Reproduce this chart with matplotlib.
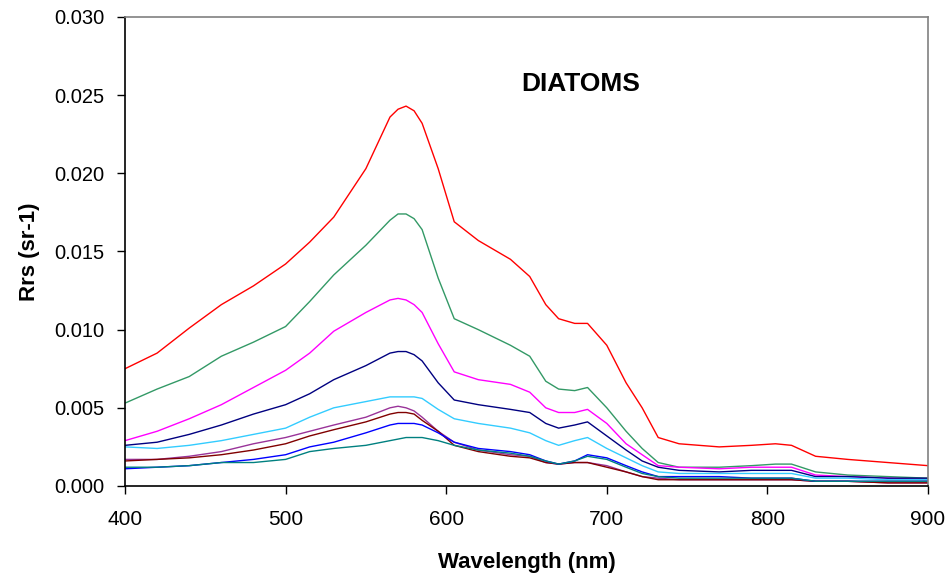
import numpy as np
import matplotlib
matplotlib.use('Agg')
import matplotlib.pyplot as plt

plt.rcParams['font.family'] = ['Liberation Sans', 'DejaVu Sans']

wl = [400, 420, 440, 460, 480, 500, 515, 530, 550, 565, 570, 575, 580, 585, 595, 605,
      620, 640, 652, 662, 670, 680, 688, 700, 712, 722, 732, 745, 770, 790,
      805, 815, 830, 850, 875, 900]

red = [0.0075, 0.0085, 0.0101, 0.0116, 0.0128, 0.0142, 0.0156, 0.0172, 0.0203, 0.0236,
       0.0241, 0.0243, 0.0240, 0.0232, 0.0203, 0.0169, 0.0157, 0.0145, 0.0134, 0.0116,
       0.0107, 0.0104, 0.0104, 0.0090, 0.0066, 0.0050, 0.0031, 0.0027, 0.0025, 0.0026,
       0.0027, 0.0026, 0.0019, 0.0017, 0.0015, 0.0013]
green = [0.0053, 0.0062, 0.0070, 0.0083, 0.0092, 0.0102, 0.0118, 0.0135, 0.0154, 0.0170,
         0.0174, 0.0174, 0.0171, 0.0164, 0.0133, 0.0107, 0.0100, 0.0090, 0.0083, 0.0067,
         0.0062, 0.0061, 0.0063, 0.0050, 0.0035, 0.0024, 0.0015, 0.0012, 0.0012, 0.0013,
         0.0014, 0.0014, 0.0009, 0.0007, 0.0006, 0.0005]
magenta = [0.0029, 0.0035, 0.0043, 0.0052, 0.0063, 0.0074, 0.0085, 0.0099, 0.0111, 0.0119,
           0.0120, 0.0119, 0.0116, 0.0111, 0.0091, 0.0073, 0.0068, 0.0065, 0.0060, 0.0050,
           0.0047, 0.0047, 0.0049, 0.0040, 0.0027, 0.0020, 0.0013, 0.0012, 0.0011, 0.0012,
           0.0012, 0.0012, 0.0007, 0.0006, 0.0005, 0.0004]
navy = [0.0026, 0.0028, 0.0033, 0.0039, 0.0046, 0.0052, 0.0059, 0.0068, 0.0077, 0.0085,
        0.0086, 0.0086, 0.0084, 0.0080, 0.0066, 0.0055, 0.0052, 0.0049, 0.0047, 0.0040,
        0.0037, 0.0039, 0.0041, 0.0032, 0.0023, 0.0016, 0.0012, 0.0010, 0.0009, 0.0010,
        0.0010, 0.0010, 0.0006, 0.0006, 0.0005, 0.0005]
cyan = [0.0025, 0.0024, 0.0026, 0.0029, 0.0033, 0.0037, 0.0044, 0.0050, 0.0054, 0.0057,
        0.0057, 0.0057, 0.0057, 0.0056, 0.0049, 0.0043, 0.0040, 0.0037, 0.0034, 0.0029,
        0.0026, 0.0029, 0.0031, 0.0024, 0.0018, 0.0013, 0.0009, 0.0008, 0.0008, 0.0008,
        0.0008, 0.0008, 0.0005, 0.0005, 0.0004, 0.0004]
purple = [0.0017, 0.0017, 0.0019, 0.0022, 0.0027, 0.0031, 0.0035, 0.0039, 0.0044, 0.0050,
          0.0051, 0.0050, 0.0048, 0.0044, 0.0035, 0.0028, 0.0023, 0.0020, 0.0019, 0.0015,
          0.0014, 0.0015, 0.0015, 0.0013, 0.0009, 0.0006, 0.0005, 0.0004, 0.0004, 0.0004,
          0.0004, 0.0004, 0.0003, 0.0003, 0.0002, 0.0002]
darkred = [0.0016, 0.0017, 0.0018, 0.0020, 0.0023, 0.0027, 0.0032, 0.0036, 0.0041, 0.0046,
           0.0047, 0.0047, 0.0046, 0.0042, 0.0035, 0.0026, 0.0022, 0.0019, 0.0018, 0.0015,
           0.0014, 0.0015, 0.0015, 0.0012, 0.0009, 0.0006, 0.0004, 0.0004, 0.0004, 0.0004,
           0.0004, 0.0004, 0.0003, 0.0003, 0.0002, 0.0002]
blue = [0.0011, 0.0012, 0.0013, 0.0015, 0.0017, 0.0020, 0.0025, 0.0028, 0.0034, 0.0039,
        0.0040, 0.0040, 0.0040, 0.0039, 0.0034, 0.0028, 0.0024, 0.0022, 0.0020, 0.0016,
        0.0014, 0.0016, 0.0020, 0.0018, 0.0013, 0.0009, 0.0006, 0.0006, 0.0006, 0.0005,
        0.0005, 0.0005, 0.0003, 0.0003, 0.0003, 0.0003]
teal = [0.0012, 0.0012, 0.0013, 0.0015, 0.0015, 0.0017, 0.0022, 0.0024, 0.0026, 0.0029,
        0.0030, 0.0031, 0.0031, 0.0031, 0.0029, 0.0026, 0.0023, 0.0021, 0.0019, 0.0016,
        0.0014, 0.0016, 0.0019, 0.0017, 0.0012, 0.0008, 0.0006, 0.0005, 0.0005, 0.0005,
        0.0005, 0.0005, 0.0003, 0.0003, 0.0003, 0.0003]

series = [red, green, magenta, navy, cyan, purple, darkred, blue, teal]
colors = ['#FF0000', '#339966', '#FF00FF', '#000080', '#33CCFF',
          '#993399', '#800000', '#0000FF', '#008080']

fig = plt.figure(figsize=(9.49, 5.78), dpi=100)
ax = fig.add_axes([0.1317, 0.1592, 0.8462, 0.8114])

for s, c in zip(series, colors):
    ax.plot(wl, s, color=c, lw=1.0)

ax.set_xlim(400, 900)
ax.set_ylim(0, 0.030)
ax.set_xticks([400, 500, 600, 700, 800, 900])
ax.set_yticks(np.arange(0, 0.0301, 0.005))
ax.yaxis.set_major_formatter(matplotlib.ticker.FormatStrFormatter('%.3f'))
ax.tick_params(direction='out', length=6, width=1)
ax.tick_params(axis='x', labelsize=15, pad=11)
ax.tick_params(axis='y', labelsize=14.5, pad=9)

# excel-style frame: black left/bottom, grey top/right
ax.spines['left'].set_color('black')
ax.spines['bottom'].set_color('black')
ax.spines['top'].set_color('#808080')
ax.spines['right'].set_color('#808080')
for sp in ax.spines.values():
    sp.set_linewidth(1.2)

ax.set_xlabel('Wavelength (nm)', fontsize=16, fontweight='bold', labelpad=17)
ax.set_ylabel('Rrs (sr-1)', fontsize=16, fontweight='bold', labelpad=10)
ax.text(684, 0.0257, 'DIATOMS', fontsize=19, fontweight='bold',
        ha='center', va='center')

fig.savefig('out.png', dpi=100)
